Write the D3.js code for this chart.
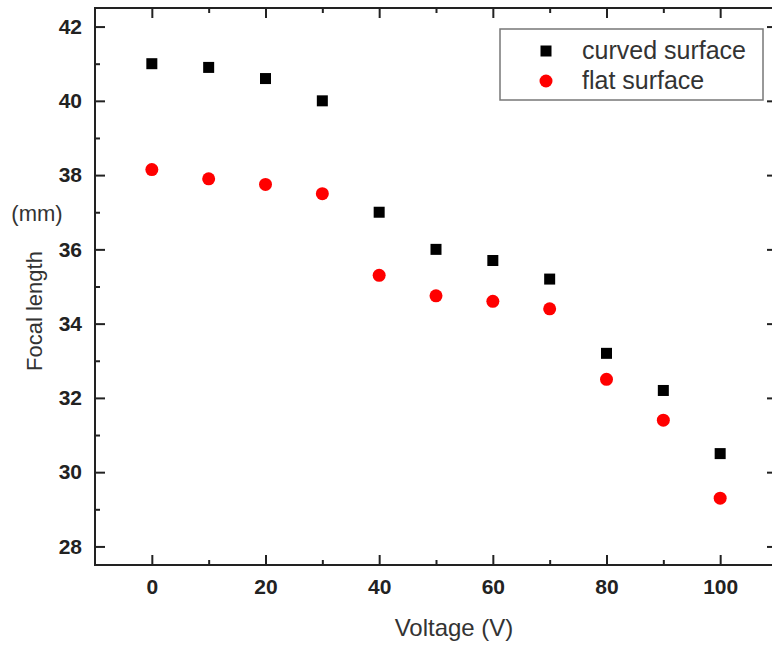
<!DOCTYPE html>
<html>
<head>
<meta charset="utf-8">
<script src="https://cdn.jsdelivr.net/npm/d3@7"></script>
<style>
  body { margin: 0; background: #fff; }
  svg { display: block; font-family: Arial, "Liberation Sans", sans-serif; }
</style>
</head>
<body>
<div id="chart"></div>
<script>
// data
var voltage = [0, 10, 20, 30, 40, 50, 60, 70, 80, 90, 100];
var curved = [41.0, 40.9, 40.6, 40.0, 37.0, 36.0, 35.7, 35.2, 33.2, 32.2, 30.5];
var flat = [38.15, 37.9, 37.75, 37.5, 35.3, 34.75, 34.6, 34.4, 32.5, 31.4, 29.3];
var seriesNames = ["curved surface", "flat surface"];
var xTicks = [0, 20, 40, 60, 80, 100];
var xMinor = [10, 30, 50, 70, 90];
var yTicks = [28, 30, 32, 34, 36, 38, 40, 42];
var yMinor = [29, 31, 33, 35, 37, 39, 41];

var width = 772, height = 646;
var plot = {left: 95, right: 777, top: 8, bottom: 565};

var svg = d3.select("#chart")
  .append("svg")
  .attr("width", width)
  .attr("height", height);

var x = d3.scaleLinear().domain([-10, 110]).range([plot.left, plot.right]);
var y = d3.scaleLinear().domain([27.5, 42.5]).range([plot.bottom, plot.top]);

function noDomain(g) { g.select(".domain").remove(); }

// bottom axis, ticks pointing inward
svg.append("g")
  .attr("transform", "translate(0," + plot.bottom + ")")
  .call(d3.axisBottom(x).tickValues(xTicks).tickSize(-10).tickPadding(14).tickFormat(d3.format("d")))
  .call(noDomain);
svg.append("g")
  .attr("transform", "translate(0," + plot.bottom + ")")
  .call(d3.axisBottom(x).tickValues(xMinor).tickSize(-5).tickFormat(""))
  .call(noDomain);

// top axis
svg.append("g")
  .attr("transform", "translate(0," + plot.top + ")")
  .call(d3.axisTop(x).tickValues(xTicks).tickSize(-10).tickFormat(""))
  .call(noDomain);
svg.append("g")
  .attr("transform", "translate(0," + plot.top + ")")
  .call(d3.axisTop(x).tickValues(xMinor).tickSize(-5).tickFormat(""))
  .call(noDomain);

// left axis
svg.append("g")
  .attr("transform", "translate(" + plot.left + ",0)")
  .call(d3.axisLeft(y).tickValues(yTicks).tickSize(-10).tickPadding(13).tickFormat(d3.format("d")))
  .call(noDomain);
svg.append("g")
  .attr("transform", "translate(" + plot.left + ",0)")
  .call(d3.axisLeft(y).tickValues(yMinor).tickSize(-5).tickFormat(""))
  .call(noDomain);

// right axis
svg.append("g")
  .attr("transform", "translate(" + plot.right + ",0)")
  .call(d3.axisRight(y).tickValues(yTicks).tickSize(-10).tickFormat(""))
  .call(noDomain);
svg.append("g")
  .attr("transform", "translate(" + plot.right + ",0)")
  .call(d3.axisRight(y).tickValues(yMinor).tickSize(-5).tickFormat(""))
  .call(noDomain);

svg.selectAll(".tick line").attr("stroke", "#222").attr("stroke-width", 2);
svg.selectAll(".tick text")
  .attr("fill", "#222")
  .style("font-size", "21px")
  .style("font-weight", "bold")
  .style("font-family", "Arial, 'Liberation Sans', sans-serif");

// frame
svg.append("rect")
  .attr("x", plot.left)
  .attr("y", plot.top)
  .attr("width", plot.right - plot.left)
  .attr("height", plot.bottom - plot.top)
  .attr("fill", "none")
  .attr("stroke", "#222")
  .attr("stroke-width", 2);

// curved surface: black squares
svg.append("g")
  .selectAll("rect")
  .data(voltage)
  .enter()
  .append("rect")
  .attr("x", function(d) { return x(d) - 5.5; })
  .attr("y", function(d, i) { return y(curved[i]) - 5.5; })
  .attr("width", 11)
  .attr("height", 11)
  .attr("fill", "#000");

// flat surface: red circles
svg.append("g")
  .selectAll("circle")
  .data(voltage)
  .enter()
  .append("circle")
  .attr("cx", function(d) { return x(d); })
  .attr("cy", function(d, i) { return y(flat[i]); })
  .attr("r", 6.5)
  .attr("fill", "#ff0000");

// legend
var legend = svg.append("g");
legend.append("rect")
  .attr("x", 500)
  .attr("y", 29)
  .attr("width", 263)
  .attr("height", 71)
  .attr("fill", "#fff")
  .attr("stroke", "#777")
  .attr("stroke-width", 1.5);
legend.append("rect")
  .attr("x", 540.5).attr("y", 45.5)
  .attr("width", 11).attr("height", 11)
  .attr("fill", "#000");
legend.append("circle")
  .attr("cx", 546).attr("cy", 81)
  .attr("r", 6.5)
  .attr("fill", "#ff0000");
legend.selectAll("text")
  .data(seriesNames)
  .enter()
  .append("text")
  .attr("x", 582)
  .attr("y", function(d, i) { return 59 + i * 30; })
  .attr("fill", "#333")
  .style("font-size", "25px")
  .text(function(d) { return d; });

// axis titles
svg.append("text")
  .attr("x", 454)
  .attr("y", 636)
  .attr("text-anchor", "middle")
  .attr("fill", "#333")
  .style("font-size", "24px")
  .text("Voltage (V)");

svg.append("text")
  .attr("transform", "translate(42,311) rotate(-90)")
  .attr("text-anchor", "middle")
  .attr("fill", "#333")
  .style("font-size", "22px")
  .text("Focal length");

svg.append("text")
  .attr("x", 37)
  .attr("y", 221)
  .attr("text-anchor", "middle")
  .attr("fill", "#333")
  .style("font-size", "22px")
  .text("(mm)");
</script>
</body>
</html>
